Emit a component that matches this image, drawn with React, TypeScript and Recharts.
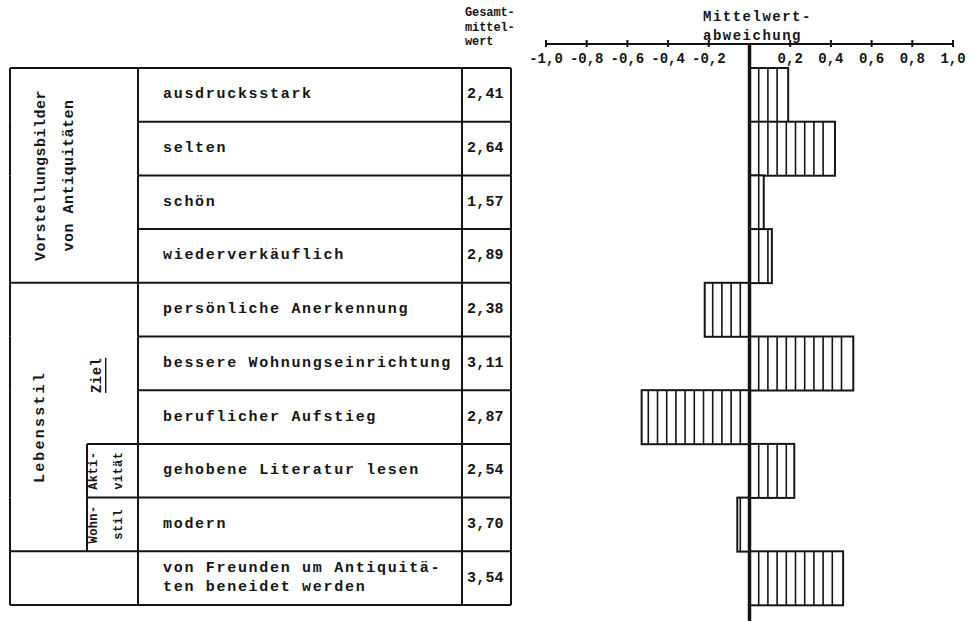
import React from 'react';
import { BarChart, Bar, XAxis, YAxis, ReferenceLine } from 'recharts';

// rows of the table, top to bottom
const items = [
  'ausdrucksstark',
  'selten',
  'schön',
  'wiederverkäuflich',
  'persönliche Anerkennung',
  'bessere Wohnungseinrichtung',
  'beruflicher Aufstieg',
  'gehobene Literatur lesen',
  'modern',
  'von Freunden um Antiquitä-\nten beneidet werden',
];
const overallMeans = ['2,41', '2,64', '1,57', '2,89', '2,38', '3,11', '2,87', '2,54', '3,70', '3,54'];
const deviations = [0.19, 0.42, 0.07, 0.11, -0.22, 0.51, -0.53, 0.22, -0.06, 0.46];

const xTicks = [-1, -0.8, -0.6, -0.4, -0.2, 0, 0.2, 0.4, 0.6, 0.8, 1];
const xTickLabels = ['-1,0', '-0,8', '-0,6', '-0,4', '-0,2', '', '0,2', '0,4', '0,6', '0,8', '1,0'];

// left column groups (number of rows each)
const groupTitles = [['Vorstellungsbilder', 'von Antiquitäten'], ['Lebensstil'], []];
const groupSpans = [4, 5, 1];
// sub groups inside "Lebensstil"
const subTitles = [['Ziel'], ['Akti-', 'vität'], ['Wohn-', 'stil']];
const subSpans = [3, 1, 1];

const W = 978;
const H = 621;
const TOP = 44;
const PAD_TOP = 24;
const PAD_BOTTOM = 16;
const ROW_H = (H - TOP - PAD_TOP - PAD_BOTTOM) / items.length;

const FONT = '"Liberation Mono", "DejaVu Sans Mono", monospace';
const INK = '#151515';
const STRIPE = 9.2;

const X_LEFT = 10;
const X_SUB = 87;
const X_GROUP = 138;
const X_VAL = 462;
const X_RIGHT = 511;

const groupStarts = groupSpans.map((_, i) => groupSpans.slice(0, i).reduce((a, b) => a + b, 0));
const SUB_OFFSET = groupStarts[1];
const subStarts = subSpans.map((_, i) => SUB_OFFSET + subSpans.slice(0, i).reduce((a, b) => a + b, 0));

const data = items.map((label, i) => ({ label, mean: overallMeans[i], dev: deviations[i] }));

const txt = { fontFamily: FONT, fontWeight: 700, fill: INK } as const;

const VText = ({ x, y, size, spacing, children, underline }: any) => (
  <text
    x={x}
    y={y}
    transform={`rotate(-90 ${x} ${y})`}
    textAnchor="middle"
    dominantBaseline="central"
    fontSize={size}
    letterSpacing={spacing}
    textDecoration={underline ? 'underline' : undefined}
    {...txt}
  >
    {children}
  </text>
);

const RowTick = (props: any) => {
  const { y, payload } = props;
  const i = items.indexOf(payload.value);
  if (i < 0) return <g />;
  const top = y - ROW_H / 2;
  const bottom = y + ROW_H / 2;
  const g = groupStarts.indexOf(i);
  const s = subStarts.indexOf(i);
  const lines = items[i].split('\n');
  const ln = { stroke: INK, strokeWidth: 2 };

  let groupEl = null;
  if (g >= 0 && groupTitles[g].length) {
    const two = groupTitles[g].length === 2;
    const cy = top + (groupSpans[g] * ROW_H) / 2 + (two ? 0 : 10);
    const cols = two ? [42, 70] : [41];
    groupEl = groupTitles[g].map((t, k) => (
      <VText key={k} x={cols[k]} y={cy} size={15} spacing={two ? 0.5 : 2.2}>
        {t}
      </VText>
    ));
  }

  let subEl = null;
  if (s >= 0) {
    const two = subTitles[s].length === 2;
    const cy = top + (subSpans[s] * ROW_H) / 2 + (two ? 0 : 12);
    const cols = two ? [94, 119] : [97];
    subEl = (
      <g>
        {subTitles[s].map((t, k) => (
          <VText key={k} x={cols[k]} y={cy} size={two ? 12 : 14} spacing={0.4} underline={!two}>
            {t}
          </VText>
        ))}
        {s > 0 && <line x1={X_SUB} x2={X_GROUP} y1={top} y2={top} {...ln} />}
        {s > 0 && <line x1={X_SUB} x2={X_SUB} y1={top} y2={bottom} {...ln} />}
      </g>
    );
  }

  return (
    <g>
      <line x1={g >= 0 ? X_LEFT : X_GROUP} x2={X_RIGHT} y1={top} y2={top} {...ln} />
      {i === items.length - 1 && <line x1={X_LEFT} x2={X_RIGHT} y1={bottom} y2={bottom} {...ln} />}
      {[X_LEFT, X_GROUP, X_VAL, X_RIGHT].map((x) => (
        <line key={x} x1={x} x2={x} y1={top} y2={bottom} {...ln} />
      ))}
      {lines.map((l, k) => (
        <text
          key={k}
          x={163}
          y={y + (k - (lines.length - 1) / 2) * 19}
          dominantBaseline="central"
          fontSize={15}
          letterSpacing={1.7}
          {...txt}
        >
          {l}
        </text>
      ))}
      <text x={467} y={y} dominantBaseline="central" fontSize={15} letterSpacing={0.2} {...txt}>
        {overallMeans[i]}
      </text>
      {groupEl}
      {subEl}
    </g>
  );
};

const AxisTick = (props: any) => {
  const { x, payload } = props;
  const i = xTicks.indexOf(payload.value);
  if (i < 0 || payload.value === 0) return <g />;
  return (
    <g>
      <line x1={x} x2={x} y1={TOP - 4} y2={TOP + 3} stroke={INK} strokeWidth={2} />
      <text x={x} y={TOP + 15} textAnchor="middle" dominantBaseline="central" fontSize={14} letterSpacing={0} {...txt}>
        {xTickLabels[i]}
      </text>
    </g>
  );
};

const HatchedBar = (props: any) => {
  const { x, y, width, height } = props;
  const dir = width < 0 ? -1 : 1;
  const w = Math.abs(width);
  const left = dir > 0 ? x : x + width;
  const stripes: number[] = [];
  for (let d = STRIPE; d < w - 3; d += STRIPE) stripes.push(x + dir * d);
  return (
    <g>
      <rect x={left} y={y} width={w} height={height} fill="#fff" stroke={INK} strokeWidth={2} />
      {stripes.map((sx, k) => (
        <line key={k} x1={sx} x2={sx} y1={y} y2={y + height} stroke={INK} strokeWidth={1.6} />
      ))}
    </g>
  );
};

export default function App() {
  return (
    <div style={{ position: 'absolute', left: 0, top: 0, width: W, height: H, background: '#fff' }}>
      <BarChart
        width={W}
        height={H}
        data={data}
        layout="vertical"
        barCategoryGap={0}
        margin={{ top: 14, right: 25, bottom: 0, left: 0 }}
      >
        <XAxis
          type="number"
          domain={[-1, 1]}
          ticks={xTicks}
          orientation="top"
          height={30}
          axisLine={{ stroke: INK, strokeWidth: 2 }}
          tickLine={false}
          tick={AxisTick}
          interval={0}
        />
        <YAxis
          type="category"
          dataKey="label"
          width={546}
          axisLine={false}
          tickLine={false}
          interval={0}
          padding={{ top: PAD_TOP, bottom: PAD_BOTTOM }}
          tick={RowTick}
        />
        <Bar dataKey="dev" shape={HatchedBar} isAnimationActive={false} />
        <ReferenceLine x={0} stroke={INK} strokeWidth={3.5} ifOverflow="extendDomain" />
      </BarChart>
      <svg width={W} height={52} style={{ position: 'absolute', left: 0, top: 0, pointerEvents: 'none' }}>
        <text fontSize={12} letterSpacing={-0.1} {...txt}>
          <tspan x={465} y={16}>Gesamt-</tspan>
          <tspan x={465} y={30.5}>mittel-</tspan>
          <tspan x={465} y={45}>wert</tspan>
        </text>
        <text fontSize={14} letterSpacing={1.5} {...txt}>
          <tspan x={703} y={21}>Mittelwert-</tspan>
          <tspan x={703} y={40}>abweichung</tspan>
        </text>
      </svg>
    </div>
  );
}
